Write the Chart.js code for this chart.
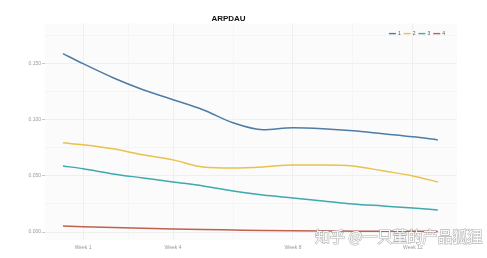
<!DOCTYPE html>
<html>
<head>
<meta charset="utf-8">
<script src="https://cdn.jsdelivr.net/npm/chart.js@4.4.0/dist/chart.umd.min.js"></script>
<style>
  html, body { margin: 0; padding: 0; background: #fff; }
  #wrap { width: 487px; height: 258px; }
</style>
</head>
<body>
<div id="wrap"><canvas id="grafico"></canvas></div>
<script>
// semanas (eixo x) e valores
const semanas = [0.33, 1, 2, 3, 4, 5, 6, 7, 8, 9, 10, 11, 12, 12.83];
const serie1 = [0.159, 0.150, 0.1375, 0.1268, 0.1179, 0.1089, 0.0973, 0.0911, 0.0929, 0.0920, 0.0902, 0.0875, 0.0848, 0.0821];
const serie2 = [0.0795, 0.0777, 0.0741, 0.0688, 0.0643, 0.0580, 0.0571, 0.0580, 0.0598, 0.0598, 0.0589, 0.0545, 0.0500, 0.0446];
const serie3 = [0.0589, 0.0563, 0.0518, 0.0482, 0.0446, 0.0411, 0.0366, 0.0330, 0.0304, 0.0277, 0.0250, 0.0232, 0.0214, 0.0196];
const serie4 = [0.0054, 0.0048, 0.0040, 0.0033, 0.0027, 0.0022, 0.0018, 0.0014, 0.0011, 0.0009, 0.0008, 0.0007, 0.0006, 0.0005];
const nomesSeries = ['1', '2', '3', '4'];
const coresSeries = ['#4d7ca6', '#e8c24a', '#3fa9ae', '#c0604f'];

const xTicks = [1, 2.5, 4, 6, 8, 10, 12];
const xTickLabels = { 1: 'Week 1', 4: 'Week 4', 8: 'Week 8', 12: 'Week 12' };
const yTicks = [0, 0.025, 0.05, 0.075, 0.1, 0.125, 0.15, 0.175];
const yTickLabels = { 0: '0.000', 0.05: '0.050', 0.1: '0.100', 0.15: '0.150' };

function pontos(valores) {
    return semanas.map((s, i) => ({ x: s, y: valores[i] }));
}

const fundoPainel = {
    id: 'fundoPainel',
    beforeDraw(chart) {
        const a = chart.chartArea;
        const ctx = chart.ctx;
        ctx.save();
        ctx.fillStyle = '#fbfbfb';
        ctx.fillRect(a.left, a.top, a.right - a.left, a.bottom - a.top);
        ctx.restore();
    }
};

// legenda horizontal dentro do painel, canto superior direito
const legendaPainel = {
    id: 'legendaPainel',
    afterDatasetsDraw(chart) {
        const ctx = chart.ctx;
        const ds = chart.data.datasets;
        ctx.save();
        ctx.font = '5px "Liberation Sans"';
        ctx.textBaseline = 'middle';
        const y = chart.chartArea.top + 10;
        let x = chart.chartArea.right - 12;
        for (let i = ds.length - 1; i >= 0; i--) {
            const w = ctx.measureText(ds[i].label).width;
            x -= w;
            ctx.fillStyle = '#555';
            ctx.fillText(ds[i].label, x, y);
            x -= 9;
            ctx.strokeStyle = ds[i].borderColor;
            ctx.lineWidth = 1.4;
            ctx.beginPath();
            ctx.moveTo(x, y);
            ctx.lineTo(x + 7, y);
            ctx.stroke();
            x -= 3;
        }
        ctx.restore();
    }
};

const marcaDagua = {
    id: 'marcaDagua',
    afterDraw(chart) {
        const ctx = chart.ctx;
        ctx.save();
        ctx.font = '15px "Noto Sans CJK SC"';
        ctx.textBaseline = 'middle';
        ctx.lineWidth = 1.2;
        ctx.strokeStyle = 'rgba(120,120,120,0.55)';
        ctx.fillStyle = 'rgba(255,255,255,0.95)';
        ctx.strokeText('知乎 @一只董的产品狐狸', 315, 236);
        ctx.fillText('知乎 @一只董的产品狐狸', 315, 236);
        ctx.restore();
    }
};

const datasets = [serie1, serie2, serie3, serie4].map((v, i) => ({
    label: nomesSeries[i],
    data: pontos(v),
    borderColor: coresSeries[i],
    backgroundColor: coresSeries[i],
    borderWidth: 1.5,
    pointRadius: 0,
    cubicInterpolationMode: 'monotone',
    fill: false
}));

new Chart(document.getElementById('grafico'), {
    type: 'line',
    data: { datasets: datasets },
    options: {
        responsive: true,
        maintainAspectRatio: false,
        animation: false,
        layout: { padding: { left: 0, right: 30, top: 0, bottom: 0 } },
        plugins: {
            title: {
                display: true,
                text: 'ARPDAU',
                color: '#111',
                font: { family: 'Liberation Sans', size: 8, weight: 'bold' },
                padding: { top: 14, bottom: 0 }
            },
            legend: { display: false },
            tooltip: { enabled: false }
        },
        scales: {
            x: {
                type: 'linear',
                min: -0.27,
                max: 13.47,
                afterBuildTicks: s => { s.ticks = xTicks.map(v => ({ value: v })); },
                afterFit: s => { s.height = 18; },
                ticks: {
                    autoSkip: false,
                    maxRotation: 0,
                    padding: 5,
                    color: '#999',
                    font: { family: 'Liberation Sans', size: 5 },
                    callback: v => xTickLabels[v] || ''
                },
                grid: {
                    color: c => (c.tick && xTickLabels[c.tick.value]) ? '#ececec' : '#f4f4f4',
                    lineWidth: 0.8,
                    drawTicks: false
                },
                border: { display: false }
            },
            y: {
                min: -0.0071,
                max: 0.1857,
                afterBuildTicks: s => { s.ticks = yTicks.map(v => ({ value: v })); },
                afterFit: s => { s.width = 45; },
                ticks: {
                    autoSkip: false,
                    padding: 1,
                    color: '#999',
                    font: { family: 'Liberation Sans', size: 5 },
                    callback: v => yTickLabels[v] || ''
                },
                grid: {
                    color: c => (c.tick && yTickLabels[c.tick.value]) ? '#ececec' : '#f4f4f4',
                    lineWidth: 0.8,
                    tickLength: 3,
                    tickColor: c => (c.tick && yTickLabels[c.tick.value]) ? '#bbb' : 'rgba(0,0,0,0)'
                },
                border: { display: false }
            }
        }
    },
    plugins: [fundoPainel, legendaPainel, marcaDagua]
});
</script>
</body>
</html>
